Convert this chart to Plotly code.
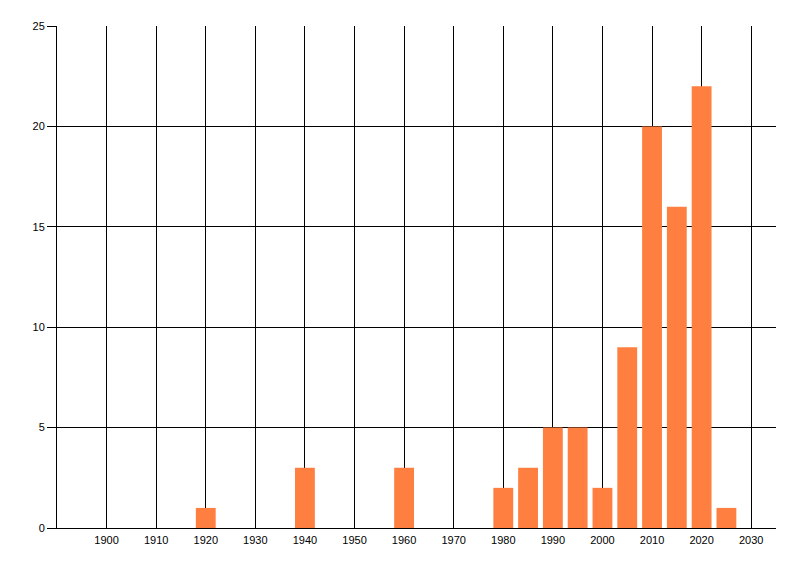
import plotly.graph_objects as go

# decade / half-decade buckets and counts
years = [1920, 1940, 1960, 1980, 1985, 1990, 1995, 2000, 2005, 2010, 2015, 2020, 2025]
counts = [1, 3, 3, 2, 3, 5, 5, 2, 9, 20, 16, 22, 1]

x_ticks = list(range(1900, 2031, 10))
y_ticks = [0, 5, 10, 15, 20, 25]

fig = go.Figure()
fig.add_trace(go.Bar(x=years, y=counts, width=4,
                     marker=dict(color="#FF7F40", line=dict(width=0))))

# page body adds an 8px offset, so margins are trimmed to compensate
fig.update_layout(
    width=800, height=576,
    margin=dict(l=49, r=32, t=18, b=56),
    plot_bgcolor="white", paper_bgcolor="white",
    font=dict(family="Liberation Sans", size=11, color="black"),
    showlegend=False,
)
fig.update_xaxes(range=[1890, 2035], tickvals=x_ticks,
                 showgrid=True, gridcolor="black", gridwidth=1,
                 showline=True, linecolor="black", linewidth=1,
                 ticks="outside", ticklen=2, tickcolor="white",
                 zeroline=False)
fig.update_yaxes(range=[0, 25], tickvals=y_ticks,
                 showgrid=True, gridcolor="black", gridwidth=1,
                 showline=True, linecolor="black", linewidth=1,
                 ticks="outside", ticklen=9, tickcolor="black",
                 zeroline=False)

fig.write_html("out.html")
